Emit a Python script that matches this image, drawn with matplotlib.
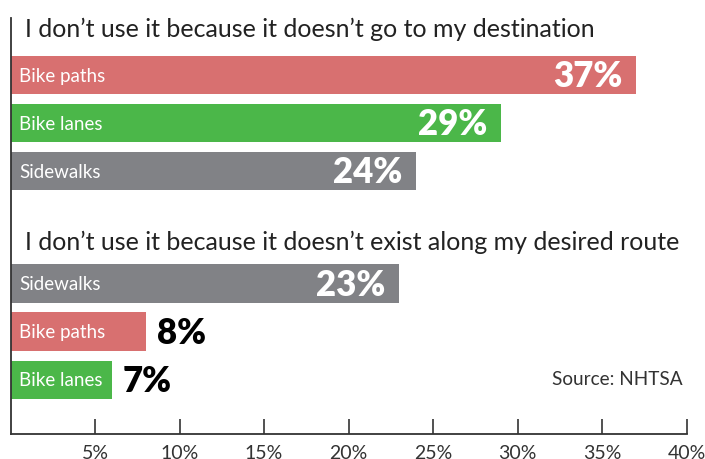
import matplotlib
matplotlib.use('Agg')
import numpy as np
import matplotlib.pyplot as plt

# data
titles = ["I don\u2019t use it because it doesn\u2019t go to my destination",
          "I don\u2019t use it because it doesn\u2019t exist along my desired route"]
cats_dest = ["Bike paths", "Bike lanes", "Sidewalks"]
vals_dest = [37, 29, 24]
labels_dest = ["37%", "29%", "24%"]
cats_route = ["Sidewalks", "Bike paths", "Bike lanes"]
vals_route = [23, 8, 6]
labels_route = ["23%", "8%", "7%"]
xticks = [5, 10, 15, 20, 25, 30, 35, 40]

colors = {"Bike paths": "#D87070", "Bike lanes": "#4BB749", "Sidewalks": "#818286"}

plt.rcParams['font.family'] = ['Lato', 'DejaVu Sans']

fig = plt.figure(figsize=(7.05, 4.59), dpi=100)
W, H = 705, 459
ax = fig.add_axes([10.5 / W, (H - 434) / H, 676 / W, (434 - 18) / H])

y1 = np.arange(3)
y2 = np.arange(3) + 4.34
bh = 0.8

def draw_group(ys, cats, vals, labels):
    for y, c, v, lab in zip(ys, cats, vals, labels):
        ax.barh(y, v, height=bh, color=colors[c], edgecolor='none')
        ax.text(0.5, y + 0.02, c, color='white', fontsize=13.5, va='center', ha='left')
        if v > 15:
            ax.text(v - 0.8, y + 0.03, lab, color='white', fontsize=25,
                    fontweight='heavy', va='center', ha='right')
        else:
            ax.text(v + 0.65, y + 0.03, lab, color='black', fontsize=25,
                    fontweight='heavy', va='center', ha='left')

draw_group(y1, cats_dest, vals_dest, labels_dest)
draw_group(y2, cats_route, vals_route, labels_route)

ax.text(0.85, -0.95, titles[0], fontsize=18, color='#222222', va='center', ha='left')
ax.text(0.85, 3.47, titles[1], fontsize=18, color='#222222', va='center', ha='left')
ax.text(39.8, y2[2], "Source: NHTSA", fontsize=13.7, color='#333333', va='center', ha='right')

ax.set_xlim(0, 40)
ax.set_ylim(7.47, -1.19)
ax.set_xticks(xticks)
ax.set_xticklabels([f"{t}%" for t in xticks])
ax.set_yticks([])
ax.tick_params(axis='x', direction='in', length=11, width=1.2, color='#333333',
               labelsize=14, labelcolor='#333333', pad=8)
for s in ['top', 'right']:
    ax.spines[s].set_visible(False)
for s in ['left', 'bottom']:
    ax.spines[s].set_color('#333333')
    ax.spines[s].set_linewidth(1.3)

plt.savefig('out.png', dpi=100)
